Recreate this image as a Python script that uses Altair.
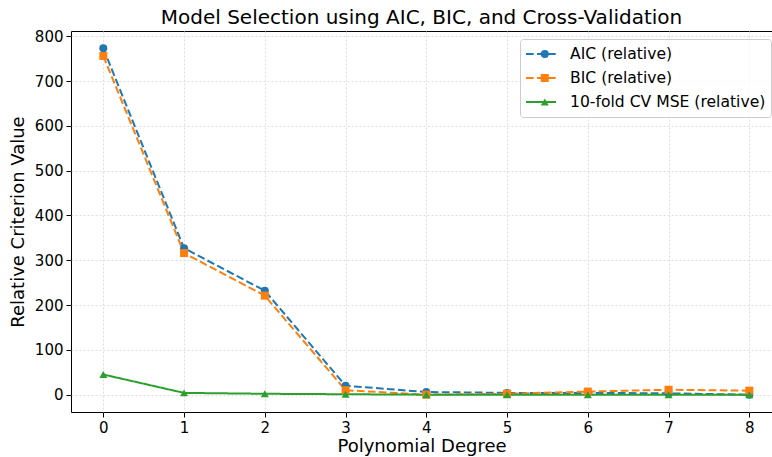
import altair as alt
import pandas as pd

degrees = [0, 1, 2, 3, 4, 5, 6, 7, 8]
aic_rel = [773, 327, 232, 20, 6, 4, 4, 3, 0]
bic_rel = [756, 316, 221, 10, 0, 2, 7, 11, 9]
cv_rel = [45, 4, 2, 1, 0, 0, 0, 0, 0]

series_names = ["AIC (relative)", "BIC (relative)", "10-fold CV MSE (relative)"]
series_colors = ["#1f77b4", "#ff7f0e", "#2ca02c"]
series_dash = [[7.7, 3.3], [7.7, 3.3], [1, 0]]
marker_shapes = ["circle", "square", "triangle-up"]
marker_keys = [n + " marker" for n in series_names]

rows = []
for name, vals in zip(series_names, [aic_rel, bic_rel, cv_rel]):
    for d, v in zip(degrees, vals):
        rows.append({"degree": d, "value": v, "series": name})
df = pd.DataFrame(rows)

x_scale = alt.Scale(domain=[-0.4, 8.281], nice=False, zero=False)
y_scale = alt.Scale(domain=[-38.65, 811.65], nice=False, zero=False)
color_scale = alt.Scale(domain=series_names, range=series_colors)

x_enc = alt.X("degree:Q", scale=x_scale,
              axis=alt.Axis(values=degrees, title="Polynomial Degree", format="d"))
y_enc = alt.Y("value:Q", scale=y_scale,
              axis=alt.Axis(values=list(range(0, 801, 100)), title="Relative Criterion Value"))

# legend: line glyphs + labels + frame
leg_lines = alt.Legend(orient="none", legendX=449, legendY=8, title=None,
                       symbolType="stroke", symbolSize=900, symbolStrokeWidth=2,
                       clipHeight=20, rowPadding=4, padding=5,
                       labelFontSize=15.6, labelFont="DejaVu Sans", labelColor="black",
                       labelLimit=400, labelOffset=13,
                       fillColor="rgba(255,255,255,0.8)", strokeColor="#cccccc",
                       cornerRadius=3)
# legend overlay: markers only (no text), drawn on top of the line glyphs
leg_marks = alt.Legend(orient="none", legendX=449, legendY=8, title=None,
                       symbolSize=64, symbolStrokeWidth=0, symbolOpacity=1,
                       clipHeight=20, rowPadding=4, padding=5, symbolOffset=12,
                       labelFontSize=15.6, labelExpr="''")

base = alt.Chart(df)

lines = base.mark_line(strokeWidth=2).encode(
    x=x_enc, y=y_enc,
    color=alt.Color("series:N", scale=color_scale, legend=leg_lines),
    strokeDash=alt.StrokeDash("series:N", scale=alt.Scale(domain=series_names, range=series_dash),
                              legend=leg_lines),
)

marker_layers = []
for name, shp in zip(series_names, marker_shapes):
    marker_layers.append(
        base.transform_filter(alt.datum.series == name).mark_point(
            filled=True, shape=shp, size=64, opacity=1
        ).encode(
            x=x_enc, y=y_enc,
            color=alt.Color("series:N", scale=color_scale, legend=None),
        )
    )

legend_df = pd.DataFrame({"key": marker_keys, "degree": [None] * 3, "value": [None] * 3})
legend_layer = alt.Chart(legend_df).mark_point(filled=True).encode(
    x=alt.X("degree:Q", scale=x_scale),
    y=alt.Y("value:Q", scale=y_scale),
    fill=alt.Fill("key:N", scale=alt.Scale(domain=marker_keys, range=series_colors), legend=leg_marks),
    shape=alt.Shape("key:N", scale=alt.Scale(domain=marker_keys, range=marker_shapes), legend=leg_marks),
)

chart = alt.layer(lines, *marker_layers, legend_layer).properties(
    width=701, height=381,
    title=alt.TitleParams("Model Selection using AIC, BIC, and Cross-Validation",
                          font="DejaVu Sans", fontSize=20, fontWeight="normal",
                          color="black", offset=1),
    autosize=alt.AutoSizeParams(type="none"),
    padding={"left": 71, "top": 31, "right": 0, "bottom": 45},
).configure_view(
    stroke="black", strokeWidth=1
).configure_axis(
    domain=False, ticks=True, tickColor="black", tickSize=5, tickWidth=1,
    labelFont="DejaVu Sans", labelFontSize=15, labelColor="black", labelPadding=3,
    titleFont="DejaVu Sans", titleFontSize=18, titleFontWeight="normal", titleColor="black",
    grid=True, gridColor="#dddddd", gridDash=[2, 2], gridWidth=1,
).configure_axisY(titlePadding=7).configure_axisX(titlePadding=2)

chart.save("out.html", embed_options={"renderer": "svg", "actions": False})
